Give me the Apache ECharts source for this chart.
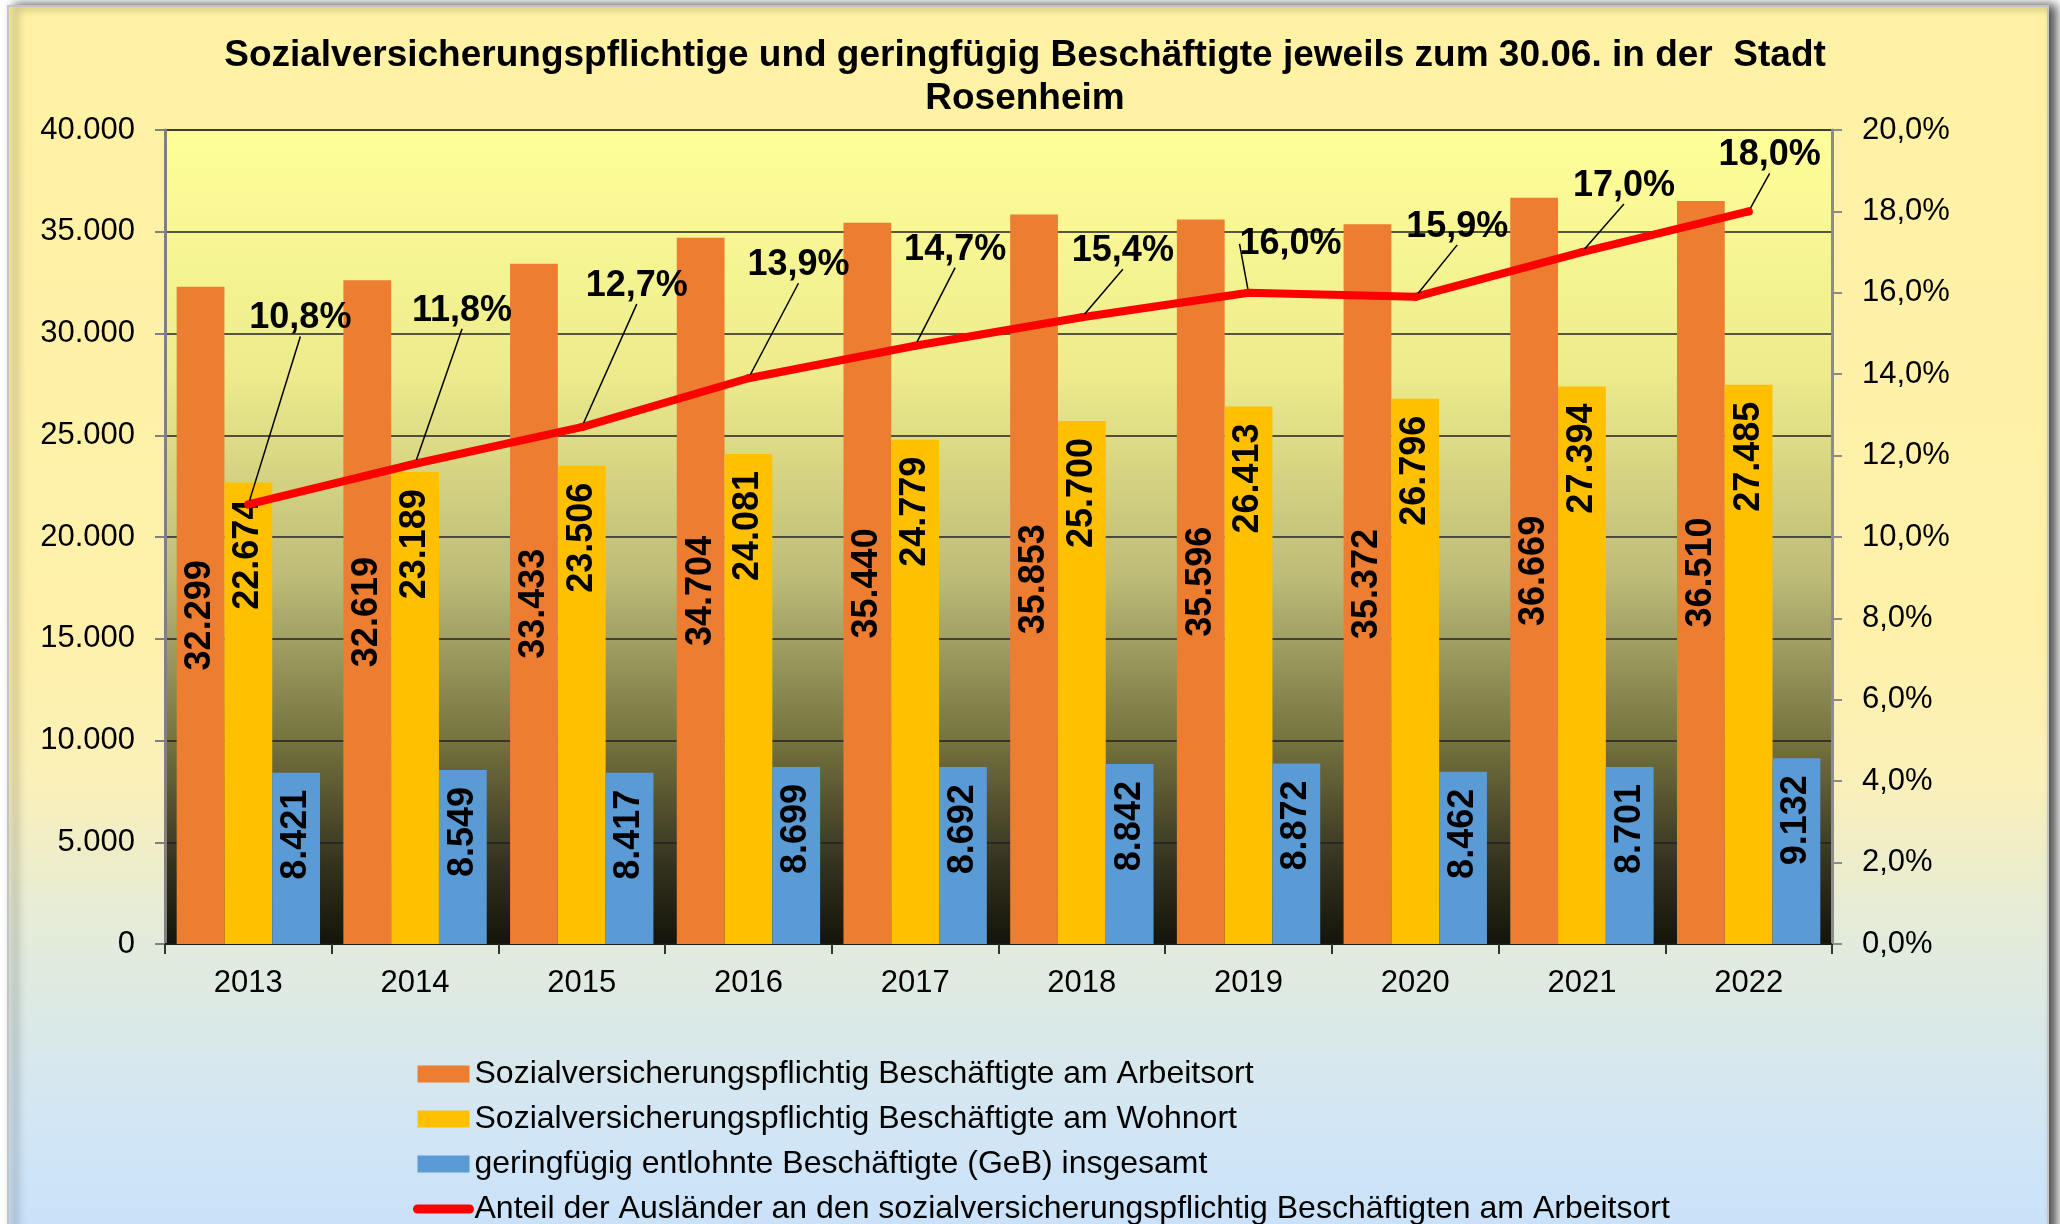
<!DOCTYPE html>
<html><head><meta charset="utf-8">
<script src="https://cdn.jsdelivr.net/npm/echarts@6/dist/echarts.min.js"></script>
<style>html,body{margin:0;padding:0;background:#fff;} #c{width:2060px;height:1224px;}</style>
</head><body><div id="c"></div>
<script>
const years = ['2013','2014','2015','2016','2017','2018','2019','2020','2021','2022'];
const arbeitsort = [32299, 32619, 33433, 34704, 35440, 35853, 35596, 35372, 36669, 36510];
const wohnort = [22674, 23189, 23506, 24081, 24779, 25700, 26413, 26796, 27394, 27485];
const geb = [8421, 8549, 8417, 8699, 8692, 8842, 8872, 8462, 8701, 9132];
const auslaenderAnteil = [10.8, 11.8, 12.7, 13.9, 14.7, 15.4, 16.0, 15.9, 17.0, 18.0];

const seriesNames = [
  'Sozialversicherungspflichtig Beschäftigte am Arbeitsort',
  'Sozialversicherungspflichtig Beschäftigte am Wohnort',
  'geringfügig entlohnte Beschäftigte (GeB) insgesamt',
  'Anteil der Ausländer an den sozialversicherungspflichtig Beschäftigten am Arbeitsort'
];

// label placement (pixel offsets of the percentage labels from their points)
const lineLabelOffsets = [[52,-186],[47,-153],[55,-141],[50,-113],[40,-96],[41,-66],[42,-49],[42,-70],[42,-66],[21,-56]];

const FONT = '"Liberation Sans", Arial, sans-serif';
const fmtThousands = v => String(v).replace(/\B(?=(\d{3})+(?!\d))/g, '.');
const fmtPct = v => v.toFixed(1).replace('.', ',') + '%';

const chart = echarts.init(document.getElementById('c'));
const barLabel = (pos, dist) => ({
  show: true, position: pos, distance: dist, rotate: 90,
  align: pos === 'inside' ? 'center' : 'right', verticalAlign: 'middle',
  fontSize: 36, fontWeight: 'bold', color: '#000', fontFamily: FONT,
  formatter: p => fmtThousands(p.value)
});

chart.setOption({
  backgroundColor: '#ffffff',
  textStyle: { fontFamily: FONT },
  graphic: [{
    type: 'rect', z: -100, silent: true,
    shape: { x: 8, y: 6, width: 2040, height: 1240 },
    style: {
      fill: { type: 'linear', x: 0, y: 0, x2: 0, y2: 1, colorStops: [
        { offset: 0, color: '#FFF2A4' }, { offset: 0.5, color: '#FFF1AA' },
        { offset: 0.62, color: '#FBF0B8' }, { offset: 0.75, color: '#E3EBDB' },
        { offset: 0.9, color: '#D2E6F4' }, { offset: 1, color: '#C8E1FA' } ] },
      stroke: '#c4c4c4', lineWidth: 2,
      shadowBlur: 10, shadowOffsetX: 7, shadowOffsetY: 0, shadowColor: 'rgba(0,0,0,0.7)'
    }
  }],
  title: {
    text: 'Sozialversicherungspflichtige und geringfügig Beschäftigte jeweils zum 30.06. in der  Stadt\nRosenheim',
    left: 1020, top: 29, textAlign: 'center',
    textStyle: { fontSize: 37, fontWeight: 'bold', color: '#000', lineHeight: 43, fontFamily: FONT }
  },
  grid: {
    left: 165, right: 228, top: 130, bottom: 280,
    show: true, borderColor: '#8c8c8c', borderWidth: 2,
    backgroundColor: { type: 'linear', x: 0, y: 0, x2: 0, y2: 1, colorStops: [
      { offset: 0, color: '#FFFF99' }, { offset: 0.3, color: '#EDEB8C' },
      { offset: 0.55, color: '#BDBB78' }, { offset: 0.75, color: '#75733F' },
      { offset: 0.9, color: '#35331F' }, { offset: 1, color: '#131309' } ] }
  },
  legend: {
    orient: 'vertical', left: 408, top: 1053, height: 260, itemWidth: 52, itemHeight: 17, itemGap: 13,
    textStyle: { fontSize: 32, color: '#000', fontFamily: FONT, lineHeight: 32 },
    data: [
      { name: seriesNames[0], icon: 'rect' },
      { name: seriesNames[1], icon: 'rect' },
      { name: seriesNames[2], icon: 'rect' },
      { name: seriesNames[3], itemStyle: { opacity: 0 },
        lineStyle: { color: '#FF0000', width: 9, cap: 'round' } }
    ]
  },
  xAxis: {
    type: 'category', data: years,
    axisLine: { lineStyle: { color: '#1a1a1a', width: 2 } },
    axisTick: { show: true, alignWithLabel: false, length: 10, lineStyle: { color: '#333', width: 2 } },
    axisLabel: { fontSize: 31, color: '#000', margin: 24, fontFamily: FONT }
  },
  yAxis: [{
    type: 'value', min: 0, max: 40000, interval: 5000,
    axisLine: { show: true, lineStyle: { color: '#808080', width: 3 } },
    axisTick: { show: true, length: 10, lineStyle: { color: '#808080', width: 2 } },
    axisLabel: { fontSize: 31, color: '#000', margin: 30, formatter: fmtThousands, fontFamily: FONT },
    splitLine: { show: true, lineStyle: { color: '#222', width: 1.5 } }
  }, {
    type: 'value', min: 0, max: 20, interval: 2, position: 'right',
    axisLine: { show: true, lineStyle: { color: '#8c8c8c', width: 3 } },
    axisTick: { show: true, length: 10, lineStyle: { color: '#8c8c8c', width: 2 } },
    axisLabel: { fontSize: 31, color: '#000', margin: 30, formatter: fmtPct, fontFamily: FONT },
    splitLine: { show: false }
  }],
  series: [{
    name: seriesNames[0], type: 'bar', data: arbeitsort, barGap: '0%', barCategoryGap: '14%',
    itemStyle: { color: '#ED7D31' }, label: barLabel('inside', 0)
  }, {
    name: seriesNames[1], type: 'bar', data: wohnort, barGap: '0%', barCategoryGap: '14%',
    itemStyle: { color: '#FFC000' }, label: barLabel('insideTop', 17)
  }, {
    name: seriesNames[2], type: 'bar', data: geb, barGap: '0%', barCategoryGap: '14%',
    itemStyle: { color: '#5B9BD5' }, label: barLabel('insideTop', 17)
  }, {
    name: seriesNames[3], type: 'line', yAxisIndex: 1, data: auslaenderAnteil, z: 5,
    symbol: 'circle', symbolSize: 8, showSymbol: true,
    itemStyle: { color: '#FF0000' },
    lineStyle: { color: '#FF0000', width: 8, cap: 'round', join: 'round' },
    label: { show: true, position: 'top', fontSize: 36, fontWeight: 'bold', color: '#000', fontFamily: FONT,
      formatter: p => fmtPct(p.value) },
    labelLine: { show: true, lineStyle: { color: '#000', width: 1.5 } },
    labelLayout: function (p) {
      const o = lineLabelOffsets[p.dataIndex];
      return { x: p.rect.x + p.rect.width / 2 + o[0], y: p.rect.y + p.rect.height / 2 + o[1], align: 'center', verticalAlign: 'middle' };
    }
  }]
});
</script></body></html>
